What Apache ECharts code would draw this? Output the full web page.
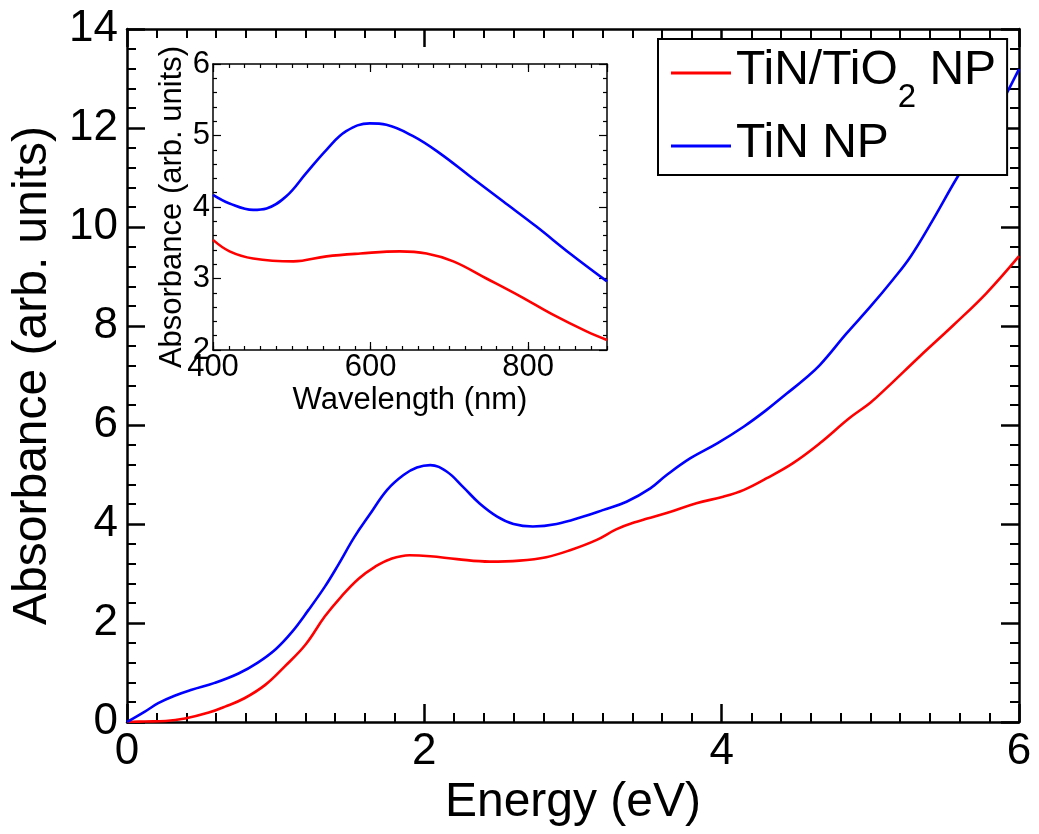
<!DOCTYPE html>
<html><head><meta charset="utf-8">
<script src="https://cdn.jsdelivr.net/npm/echarts@6/dist/echarts.min.js"></script>
<style>html,body{margin:0;padding:0;background:#fff}#c{width:1039px;height:834px}</style>
</head><body><div id="c"></div>
<script>
// ---- data ----
const seriesNames = ['TiN/TiO2 NP', 'TiN NP'];
const colors = ['#ff0000', '#0000ff'];
// main panel: Energy (eV) vs Absorbance
const energyTiNTiO2 = [[0,0],[0.12,0.01],[0.26,0.02],[0.39,0.07],[0.55,0.19],[0.66,0.31],[0.79,0.48],[0.93,0.75],[1.06,1.12],[1.20,1.56],[1.33,2.13],[1.44,2.53],[1.56,2.90],[1.67,3.14],[1.77,3.29],[1.90,3.37],[2.04,3.35],[2.22,3.29],[2.44,3.24],[2.64,3.26],[2.82,3.33],[2.98,3.47],[3.16,3.68],[3.29,3.89],[3.41,4.03],[3.63,4.22],[3.83,4.42],[4.01,4.55],[4.15,4.69],[4.30,4.92],[4.48,5.23],[4.66,5.63],[4.86,6.14],[5.00,6.45],[5.11,6.75],[5.33,7.38],[5.56,8.02],[5.78,8.66],[6.00,9.41]];
const energyTiN = [[0,0],[0.12,0.21],[0.21,0.38],[0.32,0.53],[0.435,0.65],[0.59,0.79],[0.75,0.98],[0.88,1.20],[1.00,1.47],[1.11,1.82],[1.22,2.26],[1.33,2.73],[1.42,3.17],[1.53,3.74],[1.63,4.18],[1.75,4.69],[1.86,4.99],[1.95,5.14],[2.04,5.19],[2.15,5.06],[2.26,4.75],[2.37,4.42],[2.49,4.15],[2.60,4.00],[2.73,3.95],[2.89,4.00],[3.07,4.15],[3.20,4.28],[3.36,4.45],[3.52,4.72],[3.63,4.99],[3.79,5.33],[3.97,5.63],[4.15,5.97],[4.30,6.30],[4.44,6.64],[4.55,6.91],[4.66,7.21],[4.84,7.85],[5.00,8.39],[5.15,8.93],[5.27,9.40],[5.42,10.14],[5.58,10.98],[5.80,12.05],[6.00,13.19]];
// inset: Wavelength (nm) vs Absorbance
const waveTiNTiO2 = [[400,3.54],[421,3.38],[451,3.28],[502,3.24],[544,3.31],[587,3.35],[637,3.38],[671,3.35],[705,3.24],[747,3.00],[790,2.75],[832,2.49],[874,2.26],[900,2.14]];
const waveTiN = [[400,4.17],[421,4.05],[451,3.96],[468,3.98],[493,4.15],[518,4.47],[544,4.80],[569,5.06],[599,5.17],[620,5.15],[654,4.99],[688,4.75],[726,4.43],[768,4.08],[810,3.73],[853,3.35],[900,2.96]];
// axis settings
const mainX = {min: 0, max: 6, interval: 2};
const mainY = {min: 0, max: 14, interval: 2};
const insetX = {min: 400, max: 900, interval: 200, minor: 20};
const insetY = {min: 2, max: 6, interval: 1};

const FF = '"Liberation Sans", Arial, sans-serif';
const black = '#000';

function mainXAxis(pos, withLabel) {
  return {
    type: 'value', gridIndex: 0, position: pos, min: mainX.min, max: mainX.max, interval: mainX.interval,
    axisLine: {show: true, onZero: false, lineStyle: {color: black, width: 2.5}},
    axisTick: {show: true, inside: true, length: 18, lineStyle: {color: black, width: 2.5}},
    minorTick: {show: true, splitNumber: 10, length: 9, lineStyle: {color: black, width: 2}},
    splitLine: {show: false}, minorSplitLine: {show: false},
    axisLabel: {show: withLabel, color: black, fontSize: 44, fontFamily: FF, margin: 8},
    name: withLabel ? 'Energy (eV)' : '', nameLocation: 'middle', nameGap: 55,
    nameTextStyle: {color: black, fontSize: 48, fontFamily: FF}
  };
}
function mainYAxis(pos, withLabel) {
  return {
    type: 'value', gridIndex: 0, position: pos, min: mainY.min, max: mainY.max, interval: mainY.interval,
    axisLine: {show: true, onZero: false, lineStyle: {color: black, width: 2.5}},
    axisTick: {show: true, inside: true, length: 18, lineStyle: {color: black, width: 2.5}},
    minorTick: {show: true, splitNumber: 5, length: 9, lineStyle: {color: black, width: 2}},
    splitLine: {show: false}, minorSplitLine: {show: false},
    axisLabel: {show: withLabel, color: black, fontSize: 44, fontFamily: FF, margin: 9},
    name: withLabel ? 'Absorbance (arb. units)' : '', nameLocation: 'middle', nameGap: 70,
    nameTextStyle: {color: black, fontSize: 48, fontFamily: FF}
  };
}
function insetXMinor(pos) {
  return {
    type: 'value', gridIndex: 1, position: pos, min: insetX.min, max: insetX.max, interval: insetX.minor,
    axisLine: {show: false, onZero: false},
    axisTick: {show: true, inside: true, length: 4, lineStyle: {color: black, width: 1.2}},
    splitLine: {show: false}, axisLabel: {show: false}
  };
}
function insetXMajor(pos, withLabel) {
  return {
    type: 'value', gridIndex: 1, position: pos, min: insetX.min, max: insetX.max, interval: insetX.interval,
    axisLine: {show: true, onZero: false, lineStyle: {color: black, width: 1.5}},
    axisTick: {show: true, inside: true, length: 8, lineStyle: {color: black, width: 1.2}},
    splitLine: {show: false},
    axisLabel: {show: withLabel, color: black, fontSize: 31, fontFamily: FF, margin: 2, showMaxLabel: false},
    name: withLabel ? 'Wavelength (nm)' : '', nameLocation: 'middle', nameGap: 35,
    nameTextStyle: {color: black, fontSize: 31, fontFamily: FF}
  };
}
function insetYAxis(pos, withLabel) {
  return {
    type: 'value', gridIndex: 1, position: pos, min: insetY.min, max: insetY.max, interval: insetY.interval,
    axisLine: {show: true, onZero: false, lineStyle: {color: black, width: 1.5}},
    axisTick: {show: true, inside: true, length: 8, lineStyle: {color: black, width: 1.2}},
    minorTick: {show: true, splitNumber: 5, length: 4, lineStyle: {color: black, width: 1.2}},
    splitLine: {show: false}, minorSplitLine: {show: false},
    axisLabel: {show: withLabel, color: black, fontSize: 31, fontFamily: FF, margin: 3},
    name: withLabel ? 'Absorbance (arb. units)' : '', nameLocation: 'middle', nameGap: 25,
    nameTextStyle: {color: black, fontSize: 31, fontFamily: FF}
  };
}
function line(name, data, color, xi, yi) {
  return {
    type: 'line', name: name, data: data, xAxisIndex: xi, yAxisIndex: yi,
    smooth: 0.4, symbol: 'none', showSymbol: false,
    lineStyle: {color: color, width: 2.6}, itemStyle: {color: color}
  };
}

const chart = echarts.init(document.getElementById('c'), null, {renderer: 'canvas'});
chart.setOption({
  backgroundColor: '#fff',
  animation: false,
  grid: [
    {left: 127, top: 29, right: 20, bottom: 112, show: false},
    {left: 213, top: 64, width: 394, height: 286, show: true, backgroundColor: '#fff', borderWidth: 0}
  ],
  xAxis: [
    mainXAxis('bottom', true), mainXAxis('top', false),
    insetXMinor('bottom'), insetXMinor('top'),
    insetXMajor('bottom', true), insetXMajor('top', false)
  ],
  yAxis: [
    mainYAxis('left', true), mainYAxis('right', false),
    insetYAxis('left', true), insetYAxis('right', false)
  ],
  legend: {
    data: seriesNames, orient: 'vertical', left: 658, top: 39,
    padding: [8, 11, 7, 13], itemGap: 6, itemWidth: 60, itemHeight: 3,
    icon: 'rect',
    borderColor: black, borderWidth: 2, backgroundColor: '#fff',
    formatter: function (n) { return n === 'TiN/TiO2 NP' ? '{a|TiN/TiO}{s|2}{a| NP}' : '{a|TiN NP}'; },
    textStyle: {
      color: black, fontFamily: FF, fontSize: 48,
      rich: {
        a: {fontSize: 48, fontFamily: FF, color: black, lineHeight: 52, verticalAlign: 'top'},
        s: {fontSize: 33, fontFamily: FF, color: black, lineHeight: 33, padding: [34, 0, 0, 0], verticalAlign: 'top'}
      }
    }
  },
  series: [
    line(seriesNames[0], energyTiNTiO2, colors[0], 0, 0),
    line(seriesNames[1], energyTiN, colors[1], 0, 0),
    line(seriesNames[0], waveTiNTiO2, colors[0], 4, 2),
    line(seriesNames[1], waveTiN, colors[1], 4, 2)
  ]
});
</script>
</body></html>
